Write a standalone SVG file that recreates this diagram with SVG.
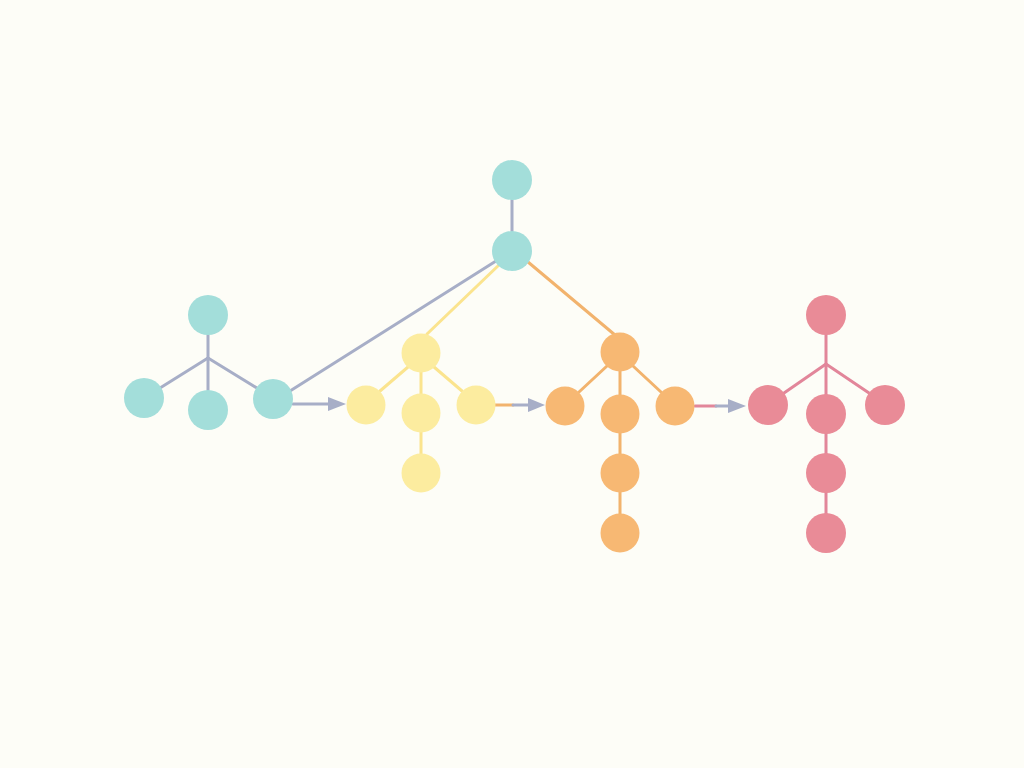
<svg xmlns="http://www.w3.org/2000/svg" width="1024" height="768" viewBox="0 0 1024 768">
<defs>
<style>
.t{fill:#a3deda}.y{fill:#fcec9f}.o{fill:#f7b873}.r{fill:#e98b97}
.e{fill:none;stroke-width:3;stroke-linecap:round}
.g{stroke:#a7aec7}.ey{stroke:#fbe48e}.eo{stroke:#f2b36d}.er{stroke:#e2869a}
</style>
<marker id="ah" viewBox="0 0 10 10" refX="10" refY="5" markerWidth="6" markerHeight="6" markerUnits="userSpaceOnUse" orient="auto">
<path d="M0,0 L10,5 L0,10 z" fill="#a7aec7"/>
</marker>
</defs>
<rect width="1024" height="768" fill="#fdfdf7"/>
<g id="connectors" class="e">
<line class="g" x1="208" y1="358" x2="208" y2="335"/>
<line class="g" x1="208" y1="358" x2="208" y2="390"/>
<line class="g" x1="208" y1="358" x2="160" y2="388"/>
<line class="g" x1="208" y1="358" x2="257" y2="388"/>
<line class="g" x1="290" y1="391" x2="496" y2="261"/>
<line class="g" x1="512" y1="200" x2="512" y2="231"/>
<line class="ey" x1="427" y1="334" x2="500" y2="264"/>
<line class="eo" x1="528" y1="262" x2="615" y2="335"/>
<path class="g" d="M293,404 L329,404" />
<polygon points="328,397 346,404 328,411" fill="#a7aec7"/>
<line class="ey" x1="421" y1="372" x2="421" y2="394"/>
<line class="ey" x1="408" y1="367" x2="380" y2="391"/>
<line class="ey" x1="434" y1="367" x2="462" y2="391"/>
<line class="ey" x1="421" y1="432" x2="421" y2="454"/>
<line class="eo" x1="495" y1="405" x2="513" y2="405"/>
<line class="g" x1="513" y1="405" x2="529" y2="405"/>
<polygon points="528,398 545,405 528,412" fill="#a7aec7"/>
<line class="eo" x1="620" y1="371" x2="620" y2="395"/>
<line class="eo" x1="607" y1="366" x2="579" y2="392"/>
<line class="eo" x1="633" y1="366" x2="661" y2="392"/>
<line class="eo" x1="620" y1="433" x2="620" y2="454"/>
<line class="eo" x1="620" y1="492" x2="620" y2="514"/>
<line class="er" x1="695" y1="406" x2="716" y2="406"/>
<line class="g" x1="716" y1="406" x2="729" y2="406"/>
<polygon points="728,399 746,406 728,413" fill="#a7aec7"/>
<line class="er" x1="826" y1="335" x2="826" y2="395"/>
<line class="er" x1="826" y1="364" x2="784" y2="393"/>
<line class="er" x1="826" y1="364" x2="869" y2="393"/>
<line class="er" x1="826" y1="433" x2="826" y2="454"/>
<line class="er" x1="826" y1="492" x2="826" y2="514"/>
</g>
<g id="teal-a1"><circle class="t" cx="208" cy="315" r="20"/></g>
<g id="teal-a2"><circle class="t" cx="144" cy="398" r="20"/></g>
<g id="teal-a3"><circle class="t" cx="208" cy="410" r="20"/></g>
<g id="teal-a4"><circle class="t" cx="273" cy="399" r="20"/></g>
<g id="teal-b1"><circle class="t" cx="512" cy="180" r="20"/></g>
<g id="teal-b2"><circle class="t" cx="512" cy="251" r="20"/></g>
<g id="yellow-1"><circle class="y" cx="421" cy="353" r="19.5"/></g>
<g id="yellow-2"><circle class="y" cx="366" cy="405" r="19.5"/></g>
<g id="yellow-3"><circle class="y" cx="421" cy="413" r="19.5"/></g>
<g id="yellow-4"><circle class="y" cx="476" cy="405" r="19.5"/></g>
<g id="yellow-5"><circle class="y" cx="421" cy="473" r="19.5"/></g>
<g id="orange-1"><circle class="o" cx="620" cy="352" r="19.5"/></g>
<g id="orange-2"><circle class="o" cx="565" cy="406" r="19.5"/></g>
<g id="orange-3"><circle class="o" cx="620" cy="414" r="19.5"/></g>
<g id="orange-4"><circle class="o" cx="675" cy="406" r="19.5"/></g>
<g id="orange-5"><circle class="o" cx="620" cy="473" r="19.5"/></g>
<g id="orange-6"><circle class="o" cx="620" cy="533" r="19.5"/></g>
<g id="red-1"><circle class="r" cx="826" cy="315" r="20"/></g>
<g id="red-2"><circle class="r" cx="768" cy="405" r="20"/></g>
<g id="red-3"><circle class="r" cx="826" cy="414" r="20"/></g>
<g id="red-4"><circle class="r" cx="885" cy="405" r="20"/></g>
<g id="red-5"><circle class="r" cx="826" cy="473" r="20"/></g>
<g id="red-6"><circle class="r" cx="826" cy="533" r="20"/></g>
</svg>
